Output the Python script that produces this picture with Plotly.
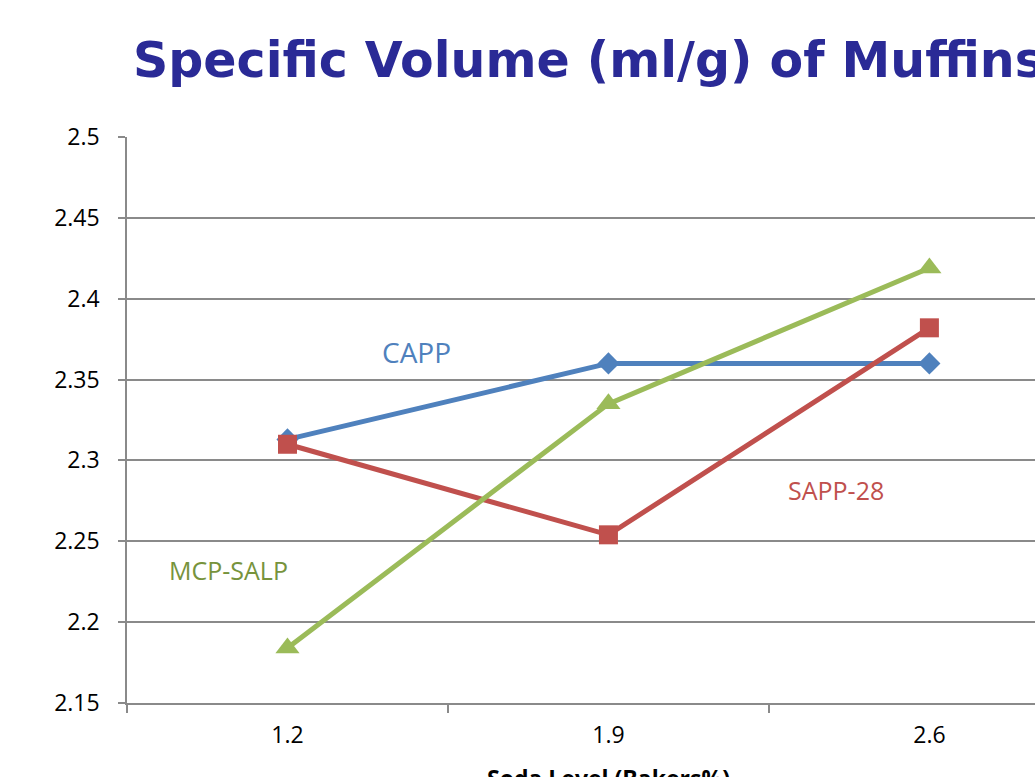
import plotly.graph_objects as go

# ---- data ----
soda_levels = ["1.2", "1.9", "2.6"]
capp = [2.313, 2.360, 2.360]
sapp28 = [2.310, 2.254, 2.382]
mcp_salp = [2.184, 2.335, 2.419]
y_ticks = [2.15, 2.2, 2.25, 2.3, 2.35, 2.4, 2.45, 2.5]
y_tick_text = ["2.15", "2.2", "2.25", "2.3", "2.35", "2.4", "2.45", "2.5"]

title_text = "Specific Volume (ml/g) of Muffins"
x_title = "Soda Level (Bakers%)"

BLUE = "#4F81BD"
RED = "#C0504D"
GREEN = "#9BBB59"
GRID = "#8A8A8A"
LABEL_FONT = "Open Sans"

fig = go.Figure()
fig.add_trace(go.Scatter(
    x=soda_levels, y=capp, name="CAPP", mode="lines+markers",
    line=dict(color=BLUE, width=5),
    marker=dict(symbol="diamond", size=17, color=BLUE),
))
fig.add_trace(go.Scatter(
    x=soda_levels, y=sapp28, name="SAPP-28", mode="lines+markers",
    line=dict(color=RED, width=5),
    marker=dict(symbol="square", size=19, color=RED),
))
fig.add_trace(go.Scatter(
    x=soda_levels, y=mcp_salp, name="MCP-SALP", mode="lines+markers",
    line=dict(color=GREEN, width=5),
    marker=dict(symbol="triangle-up", size=21, color=GREEN),
))

# series labels placed in the plot
fig.add_annotation(x=0.403, y=2.367, xref="x", yref="y", text="CAPP",
                   showarrow=False, font=dict(family=LABEL_FONT, size=28, color=BLUE))
fig.add_annotation(x=-0.185, y=2.232, xref="x", yref="y", text="MCP-SALP",
                   showarrow=False, font=dict(family=LABEL_FONT, size=25, color="#77933C"))
fig.add_annotation(x=1.709, y=2.282, xref="x", yref="y", text="SAPP-28",
                   showarrow=False, font=dict(family=LABEL_FONT, size=25, color=RED))

# x-axis title (cut off at bottom like the reference)
fig.add_annotation(x=(608 - 127) / 908, y=-(760 - 703) / 566, xref="paper", yref="paper",
                   xanchor="center", yanchor="top", text="<b>" + x_title + "</b>",
                   showarrow=False, font=dict(family=LABEL_FONT, size=23, color="#000000"))

fig.update_layout(
    width=1035, height=777,
    margin=dict(l=127, r=0, t=137, b=74, pad=0),
    paper_bgcolor="white", plot_bgcolor="white",
    showlegend=False,
    title=dict(
        text="<b>" + title_text + "</b>",
        x=133 / 1035, xanchor="left", xref="container",
        y=1 - 60 / 777, yanchor="middle", yref="container",
        font=dict(family="DejaVu Sans", size=49, color="#2A2A96"),
    ),
)

fig.update_xaxes(
    type="category", range=[-0.5, 2.329],
    showgrid=False, showline=True, linecolor=GRID, linewidth=2,
    ticks="outside", tickson="boundaries", ticklen=8, tickcolor=GRID, tickwidth=1.5,
    tickfont=dict(family=LABEL_FONT, size=23, color="#000000"),
    ticklabelstandoff=10,
    zeroline=False, fixedrange=True,
)
fig.update_yaxes(
    range=[2.15, 2.5], tickvals=y_ticks, ticktext=y_tick_text,
    showgrid=True, gridcolor=GRID, gridwidth=1.5,
    showline=True, linecolor=GRID, linewidth=1.5,
    ticks="outside", ticklen=7, tickcolor=GRID, tickwidth=1.5,
    tickfont=dict(family=LABEL_FONT, size=23, color="#000000"),
    ticklabelstandoff=14,
    zeroline=False, fixedrange=True,
)

fig.write_html("out.html", config={"displayModeBar": False})
